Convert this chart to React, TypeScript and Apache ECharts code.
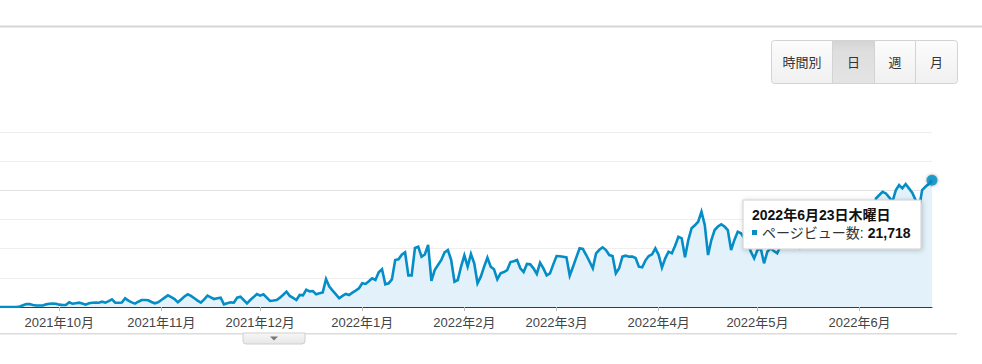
import React, { useEffect, useRef } from "react";
import * as echarts from "echarts";

// Daily page views, 2021-09-13 .. 2022-06-23 (one array per month)
const pvSep2021 = [0, 0, 0, 0, 0, 0, 80, 300, 500, 500, 350, 250, 250, 260, 450, 570, 580, 560];
const pvOct2021 = [400, 340, 340, 800, 570, 650, 740, 600, 400, 650, 740, 760, 740, 910, 740, 1000, 1320, 740, 740, 760, 1490, 1100, 800, 570, 900, 1200, 1200, 1150, 860, 630, 800];
const pvNov2021 = [1200, 1600, 2000, 1700, 1370, 800, 1300, 1800, 2170, 1900, 1490, 1100, 740, 1300, 1940, 1650, 1370, 1500, 1600, 460, 650, 800, 740, 1600, 1770, 1200, 630, 1200, 1700, 2230];
const pvDec2021 = [1940, 2170, 1600, 1030, 1100, 1200, 1600, 2100, 2630, 1890, 1550, 1200, 2060, 2000, 2970, 2690, 2740, 2170, 2340, 2500, 4800, 3490, 2800, 2170, 1490, 1900, 2230, 2060, 2460, 2800, 3200];
const pvJan2022 = [4060, 3950, 4400, 4910, 4630, 5940, 6460, 3890, 4060, 4740, 8060, 8170, 8970, 9370, 5430, 5430, 10110, 10340, 8630, 9000, 10630, 4460, 6340, 7200, 8060, 9370, 9770, 8060, 4340, 4630, 6910];
const pvFeb2022 = [8860, 6910, 9080, 7480, 4060, 5200, 6910, 8460, 6910, 6460, 4740, 5770, 6000, 6340, 7710, 7830, 8060, 6630, 6000, 7370, 7310, 6630, 5660, 7600, 6630, 5430, 5770, 7300];
const pvMar2022 = [8740, 8690, 8600, 8510, 5400, 6910, 8500, 10060, 9940, 8910, 7800, 6630, 9200, 9800, 10230, 9770, 8910, 8740, 5770, 6630, 8630, 8800, 8630, 8630, 8400, 6910, 6800, 8000, 8740, 9030, 10060];
const pvApr2022 = [8910, 6740, 8340, 9480, 9200, 10500, 12050, 11770, 8510, 11480, 13500, 14000, 14620, 16340, 14060, 8910, 11480, 13200, 13800, 14170, 13800, 13200, 9770, 11500, 12910, 12630, 11800, 11200, 9480, 8340];
const pvMay2022 = [9770, 10060, 7490, 9480, 10060, 9600, 9200, 10500, 12500, 13000, 13200, 12800, 12000, 10200, 10800, 13500, 14000, 14200, 13600, 12800, 10800, 11500, 14500, 15200, 15000, 14600, 13800, 11800, 12500, 15800, 16500];
const pvJun2022 = [16800, 16200, 15500, 13500, 15000, 18630, 19200, 19760, 19470, 18800, 18050, 20000, 20910, 20340, 21080, 20340, 19600, 18340, 16630, 20050, 20620, 21080, 21718];

const START_DATE = "2021-09-13";
const SERIES_NAME = "ページビュー数";
const TOOLTIP_DATE = "2022年6月23日木曜日";
const GRAN_BUTTONS = ["時間別", "日", "週", "月"];
const ACTIVE_BUTTON = "日";
const Y_MAX = 30000;
const Y_STEP = 5000;

const PAGEVIEWS = [
  ...pvSep2021, ...pvOct2021, ...pvNov2021, ...pvDec2021, ...pvJan2022,
  ...pvFeb2022, ...pvMar2022, ...pvApr2022, ...pvMay2022, ...pvJun2022,
];

const DATES: string[] = (() => {
  const out: string[] = [];
  const t0 = Date.parse(START_DATE + "T00:00:00Z");
  for (let i = 0; i < PAGEVIEWS.length; i++) {
    out.push(new Date(t0 + i * 86400000).toISOString().slice(0, 10));
  }
  return out;
})();

const FONT = "'Liberation Sans', Arial, 'Noto Sans CJK JP', sans-serif";
const BLUE = "#058dc7";

export default function App() {
  const ref = useRef<HTMLDivElement>(null);
  useEffect(() => {
    if (!ref.current) return;
    const chart = echarts.init(ref.current, null, { renderer: "svg" });
    const lastIdx = PAGEVIEWS.length - 1;
    const lastVal = PAGEVIEWS[lastIdx];
    const isMonthStart = (_i: number, v: string) => v.endsWith("-01");

    const btnLayout = [
      [771.5, 832.5],
      [832.5, 874.5],
      [874.5, 915.5],
      [915.5, 957.5],
    ];
    const btnTop = 40.5;
    const btnH = 43;
    const buttons: any[] = [];
    GRAN_BUTTONS.forEach((label, i) => {
      const [x0, x1] = btnLayout[i];
      const active = label === ACTIVE_BUTTON;
      const first = i === 0;
      const last = i === GRAN_BUTTONS.length - 1;
      buttons.push({
        type: "rect",
        z: 100,
        shape: {
          x: x0, y: btnTop, width: x1 - x0, height: btnH,
          r: first ? [3, 0, 0, 3] : last ? [0, 3, 3, 0] : 0,
        },
        style: {
          fill: active
            ? new echarts.graphic.LinearGradient(0, 0, 0, 1, [
                { offset: 0, color: "#d4d4d4" },
                { offset: 0.25, color: "#dedede" },
                { offset: 1, color: "#e4e4e4" },
              ])
            : new echarts.graphic.LinearGradient(0, 0, 0, 1, [
                { offset: 0, color: "#fcfcfc" },
                { offset: 1, color: "#f0f0f0" },
              ]),
          stroke: "#d3d3d3",
          lineWidth: 1,
        },
      });
      buttons.push({
        type: "text",
        z: 101,
        x: (x0 + x1) / 2,
        y: btnTop + btnH / 2,
        style: {
          text: label,
          align: "center",
          verticalAlign: "middle",
          fontSize: 13,
          fontFamily: FONT,
          fill: "#333",
        },
      });
    });

    const tipX = 743;
    const tipY = 200;
    const tooltipGroup = {
      type: "group",
      x: tipX,
      y: tipY,
      z: 200,
      children: [
        {
          type: "rect",
          z: 200,
          shape: { x: 0, y: 0, width: 178, height: 49 },
          style: {
            fill: "#fff",
            stroke: "#cfcfcf",
            lineWidth: 1,
            shadowBlur: 5,
            shadowColor: "rgba(0,0,0,0.22)",
            shadowOffsetX: 1,
            shadowOffsetY: 1,
          },
        },
        {
          type: "text",
          z: 201,
          x: 9,
          y: 15,
          style: {
            text: TOOLTIP_DATE,
            verticalAlign: "middle",
            fontSize: 14,
            fontWeight: "bold",
            fontFamily: FONT,
            fill: "#111",
          },
        },
        {
          type: "rect",
          z: 201,
          shape: { x: 9, y: 30, width: 5, height: 5 },
          style: { fill: BLUE },
        },
        {
          type: "text",
          z: 201,
          x: 19,
          y: 33,
          style: {
            text: `{a|${SERIES_NAME}: }{b|${lastVal.toLocaleString("en-US")}}`,
            verticalAlign: "middle",
            fontFamily: FONT,
            rich: {
              a: { fontSize: 14, fill: "#333", color: "#333", fontFamily: FONT },
              b: { fontSize: 14, fontWeight: "bold", fill: "#111", color: "#111", fontFamily: FONT },
            },
          },
        },
      ],
    };

    const chrome = [
      { type: "rect", z: 90, shape: { x: 0, y: 25.5, width: 982, height: 1.5 }, style: { fill: "#d5d5d5" } },
      { type: "rect", z: 90, shape: { x: 0, y: 27, width: 982, height: 1 }, style: { fill: "#ececec" } },
      { type: "rect", z: 90, shape: { x: 0, y: 333, width: 957, height: 1.5 }, style: { fill: "#dcdcdc" } },
      {
        type: "rect",
        z: 91,
        shape: { x: 243, y: 333, width: 62, height: 11, r: [0, 0, 3, 3] },
        style: {
          fill: new echarts.graphic.LinearGradient(0, 0, 0, 1, [
            { offset: 0, color: "#f7f7f7" },
            { offset: 1, color: "#e6e6e6" },
          ]),
          stroke: "#cfcfcf",
          lineWidth: 1,
        },
      },
      {
        type: "polygon",
        z: 92,
        shape: { points: [[270, 336.5], [278, 336.5], [274, 340.5]] },
        style: { fill: "#777" },
      },
    ];

    chart.setOption({
      animation: false,
      grid: { left: 0, right: 50, top: 132, bottom: 57, containLabel: false },
      xAxis: {
        type: "category",
        data: DATES,
        boundaryGap: false,
        axisLine: { lineStyle: { color: "#3a3a3a", width: 1 } },
        axisTick: {
          show: true,
          interval: isMonthStart,
          length: 4,
          lineStyle: { color: "#bbb" },
        },
        axisLabel: {
          interval: isMonthStart,
          margin: 9,
          fontSize: 13,
          color: "#444",
          fontFamily: FONT,
          formatter: (v: string) => {
            const [y, m] = v.split("-");
            return `${y}年${Number(m)}月`;
          },
        },
        splitLine: { show: false },
      },
      yAxis: {
        type: "value",
        min: 0,
        max: Y_MAX,
        interval: Y_STEP,
        axisLabel: { show: false },
        axisLine: { show: false },
        axisTick: { show: false },
        splitLine: {
          lineStyle: {
            color: ["#eeeeee", "#eeeeee", "#eeeeee", "#eeeeee", "#e2e2e2", "#eeeeee", "#eeeeee"],
            width: 1,
          },
        },
      },
      series: [
        {
          name: SERIES_NAME,
          type: "line",
          data: PAGEVIEWS,
          showSymbol: false,
          symbol: "none",
          lineStyle: { color: BLUE, width: 2.6, join: "miter" },
          areaStyle: { color: "#e3f2fa", opacity: 1 },
          z: 3,
        },
        {
          type: "scatter",
          data: [[DATES[lastIdx], lastVal]],
          symbolSize: 11,
          itemStyle: {
            color: BLUE,
            shadowBlur: 3,
            shadowColor: "rgba(0,0,0,0.45)",
          },
          z: 4,
        },
      ],
      graphic: [...chrome, ...buttons, tooltipGroup],
    });
    return () => chart.dispose();
  }, []);
  return (
    <div
      ref={ref}
      style={{ position: "absolute", left: 0, top: 0, width: 982, height: 364, background: "#fff" }}
    />
  );
}
